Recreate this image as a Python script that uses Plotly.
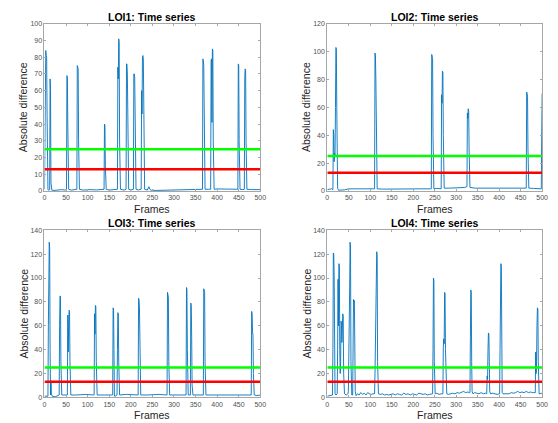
import plotly.graph_objects as go

# ---------------- data ----------------
titles = ["LOI1: Time series", "LOI2: Time series", "LOI3: Time series", "LOI4: Time series"]
x_label = "Frames"
y_label = "Absolute difference"
x_ticks = [0, 50, 100, 150, 200, 250, 300, 350, 400, 450, 500]
y_max = [100, 120, 140, 140]
y_step = [10, 20, 20, 20]
green_level = 25
red_level = 13

frames1 = [0, 1, 2, 3, 4, 5, 6, 7, 8, 9,
           11, 12, 13, 14, 15, 16, 17,
           22, 30, 40, 48,
           51, 52, 53, 54, 56,
           62, 70,
           75, 76, 77, 78, 79, 81,
           90, 105, 120, 135,
           138, 139, 140, 141, 143,
           150, 160, 167,
           169, 170, 171, 172, 173, 174, 176,
           185, 189, 190, 191, 192, 193, 195,
           200, 206, 207, 208, 209, 210, 212,
           218, 224, 225, 226, 227, 228, 229, 230, 232,
           238, 242, 244, 247, 260, 280, 300, 320, 340, 360,
           366, 367, 368, 369, 370, 372,
           380, 385, 386, 387, 388, 389, 390, 391, 393,
           400, 420, 440, 447,
           448, 449, 450, 451, 453,
           460, 463, 464, 465, 466, 467, 469,
           480, 495, 500]
diff1 = [1, 40, 35, 84, 81, 80, 45, 2, 1, 0.5,
         0.5, 1, 67, 60, 5, 1, 0.5,
         0.3, 0.5, 0.8, 0.5,
         1, 69, 68, 40, 1,
         0.5, 0.8,
         1, 75, 74, 73, 30, 1,
         0.5, 0.8, 0.6, 0.8,
         1, 40, 39, 15, 1,
         0.5, 0.8, 0.6,
         1, 74, 67, 91, 89, 30, 1,
         0.5, 1, 76, 76, 70, 20, 1,
         0.6, 1, 70, 70, 68, 20, 1,
         0.6, 1, 60, 46, 80, 81, 79, 30, 1,
         0.5, 2.5, 1, 0.4, 0.3, 0.5, 0.6, 0.8, 1, 1,
         1, 79, 78, 75, 20, 1,
         1, 1, 78, 79, 41, 85, 84, 30, 1,
         1.2, 1.3, 1, 1,
         1, 76, 75, 30, 1,
         0.8, 1, 68, 73, 72, 30, 1,
         0.8, 0.6, 0.8]

frames2 = [0, 5, 10, 13,
           14, 15, 16, 17, 18, 19, 20, 21, 22, 23, 24, 26,
           30, 40, 50, 70, 90, 108,
           110, 111, 112, 113, 114, 116,
           130, 160, 190, 220, 240,
           242, 243, 244, 245, 246, 248,
           255, 263,
           265, 266, 267, 268, 269, 270, 272,
           285, 305, 320, 324,
           325, 326, 327, 328, 329, 330, 332,
           345, 370, 400, 430, 455, 462,
           463, 464, 465, 466, 467, 469,
           480, 497, 498, 499, 500]
diff2 = [1, 1.5, 1.5, 1,
         44, 40, 21, 27, 26, 60, 103, 102, 60, 20, 2, 0.5,
         0.5, 0.8, 1.5, 1.5, 1.8, 1.5,
         1.5, 99, 97, 80, 30, 1.5,
         1.3, 1.5, 1.8, 1.5, 1.5,
         1.5, 98, 97, 95, 40, 1.5,
         1.8, 1.5,
         1.5, 69, 63, 86, 85, 40, 2,
         2, 2, 2.5, 3,
         3, 56, 52, 59, 57, 30, 2.5,
         2, 2, 1.8, 2, 2, 2,
         2, 71, 70, 68, 30, 2,
         1.8, 2, 1.5, 40, 70]

frames3 = [0, 4, 7, 8, 9, 10, 11, 12, 13, 14, 15, 16, 18,
           25, 31, 33,
           34, 35, 36, 37, 38, 40,
           45, 52,
           53, 54, 55, 56, 57, 58, 59, 61,
           75, 95, 114,
           115, 116, 117, 118, 119, 120, 122,
           140, 157,
           158, 159, 160, 161, 162, 164,
           168, 169, 170, 171, 172, 174,
           190, 210, 216,
           217, 218, 219, 220, 221, 223,
           240, 265, 283,
           284, 285, 286, 287, 288, 290,
           310, 327,
           328, 329, 330, 331, 333,
           338, 339, 340, 341, 342, 344,
           355, 367,
           368, 369, 370, 371, 372, 374,
           390, 420, 450, 478,
           479, 480, 481, 482, 483, 484, 486,
           492, 500]
diff3 = [1, 1, 1, 1, 60, 100, 130, 125, 40, 2, 14, 3, 1,
         0.5, 1.5, 2,
         2, 60, 85, 84, 30, 2,
         2, 2,
         2, 69, 38, 60, 73, 72, 30, 2,
         2, 2.5, 2,
         2, 70, 53, 77, 76, 30, 2,
         2, 2,
         2, 75, 74, 40, 1, 1,
         2, 40, 71, 70, 30, 2,
         2.5, 2, 2,
         2, 83, 82, 75, 30, 2,
         2, 2.5, 2,
         2, 88, 85, 84, 30, 2,
         2, 2,
         2, 92, 90, 40, 2,
         2, 79, 77, 50, 10, 2,
         2, 2,
         2, 91, 90, 88, 30, 2,
         2, 2, 2.5, 2,
         2, 72, 70, 55, 52, 20, 2,
         1.5, 2]

frames4 = [0, 4, 8, 11,
           12, 13, 14, 15, 16, 17, 18, 20,
           23, 24, 25, 26, 27, 28, 29, 30,
           31, 32, 33, 34, 35, 36, 37, 38, 40,
           44, 48,
           49, 50, 51, 52, 53, 54, 55, 57,
           59, 60, 61, 62, 63, 64, 65, 67,
           70, 74, 78, 82, 86, 90, 94, 98, 102, 106, 109,
           110, 111, 112, 113, 114, 115, 116, 117, 119,
           123, 128, 133, 138, 143, 148, 153, 158, 163, 168, 173, 178, 183,
           188, 193, 198, 203, 208, 213, 218, 223, 228, 233, 238, 243,
           245, 246, 247, 248, 249, 251,
           255, 260, 265, 268,
           269, 270, 271, 272, 273, 274, 275, 276, 278,
           282, 287, 292, 297, 302, 307, 312, 317, 322, 327, 331,
           332, 333, 334, 335, 336, 337, 339,
           343, 348, 353, 358, 363, 368, 370,
           371, 372, 373, 374, 375, 376, 377, 378, 380,
           385, 390, 395, 400,
           401, 402, 403, 404, 405, 406, 407, 409,
           413, 418, 423, 428, 433, 438, 443, 448, 453, 458, 463, 468, 473, 478, 483,
           484, 485, 486, 487, 488, 489, 490, 491, 492, 493, 495,
           498, 500]
diff4 = [1, 1.5, 2, 2,
         2, 40, 121, 120, 100, 30, 3, 2,
         3, 40, 99, 60, 112, 110, 40, 20,
         30, 64, 60, 46, 55, 70, 68, 20, 3,
         2, 3,
         5, 62, 47, 90, 130, 125, 30, 2,
         2, 40, 82, 80, 81, 40, 5, 1.5,
         3, 2, 4, 2.5, 3.5, 2, 4, 3, 2.5, 3, 2.5,
         3, 20, 47, 45, 80, 122, 118, 30, 3,
         2.5, 3, 2, 2.5, 2, 2.5, 3, 2, 3, 2.5, 2, 3.5, 2.5,
         3, 2, 3, 2.5, 2, 3.5, 3, 2.5, 3, 2, 2.5, 3,
         3, 40, 100, 98, 30, 3,
         3.5, 2.5, 3, 3,
         3, 42, 49, 45, 88, 87, 40, 10, 3,
         2.5, 3, 3.5, 3, 4, 3.5, 4, 5, 4, 4.5, 4,
         4, 50, 90, 88, 30, 5, 3,
         4, 3.5, 3, 4, 3, 3.5, 3,
         3, 18, 15, 40, 54, 53, 30, 5, 3,
         3.5, 3, 2.5, 3,
         3, 40, 111, 112, 110, 30, 4, 3,
         3, 3.5, 3, 4, 3.5, 4, 5, 4, 4.5, 4, 5, 4, 4.5, 4, 3.5,
         4, 38, 20, 30, 60, 75, 74, 30, 5, 3, 3,
         3.5, 3]

series = [(frames1, diff1), (frames2, diff2), (frames3, diff3), (frames4, diff4)]

# ---------------- layout ----------------
# The page body has an 8px margin, so the figure is drawn 8px smaller and
# all target pixel positions are shifted by that offset.
OFF = 8
W, H = 558 - OFF, 423 - OFF
# plot areas in window pixels: (left, right, top, bottom)
boxes = [(43, 262, 20, 190), (330, 548, 20, 190),
         (43, 262, 230, 400), (330, 548, 230, 400)]

fig = go.Figure()
FONT = "Liberation Sans, Arial, sans-serif"
blue = "#0072BD"

annotations = []
for i, ((fx, fy), box) in enumerate(zip(series, boxes)):
    l, r, t, b = (v - OFF for v in box)
    n = i + 1
    xa = "x" if n == 1 else f"x{n}"
    ya = "y" if n == 1 else f"y{n}"
    fig.add_trace(go.Scatter(x=fx, y=fy, mode="lines", xaxis=xa, yaxis=ya,
                             line=dict(color=blue, width=0.9), showlegend=False))
    fig.add_trace(go.Scatter(x=[0, 500], y=[green_level, green_level], mode="lines",
                             xaxis=xa, yaxis=ya,
                             line=dict(color="#00FF00", width=2.5), showlegend=False))
    fig.add_trace(go.Scatter(x=[0, 500], y=[red_level, red_level], mode="lines",
                             xaxis=xa, yaxis=ya,
                             line=dict(color="#FF0000", width=2.5), showlegend=False))
    common = dict(showline=True, linecolor="#A6A6A6", linewidth=1, mirror="ticks",
                  ticks="inside", ticklen=2, tickcolor="#A6A6A6", showgrid=False,
                  zeroline=False, tickfont=dict(family=FONT, size=7, color="#505050"))
    xkey = "xaxis" if n == 1 else f"xaxis{n}"
    ykey = "yaxis" if n == 1 else f"yaxis{n}"
    fig.update_layout({
        xkey: dict(domain=[l / W, r / W], anchor=ya, range=[0, 500],
                   tickvals=x_ticks, **common),
        ykey: dict(domain=[(H - b) / H, (H - t) / H], anchor=xa,
                   range=[0, y_max[i]], dtick=y_step[i], tick0=0, **common),
    })
    cx = (l + r) / 2
    annotations.append(dict(text=f"<b>{titles[i]}</b>", x=cx / W, y=(H - (t - 7)) / H,
                            xref="paper", yref="paper", showarrow=False,
                            xanchor="center", yanchor="middle",
                            font=dict(family=FONT, size=10.5, color="black")))
    annotations.append(dict(text=x_label, x=cx / W, y=(H - (b + 18)) / H,
                            xref="paper", yref="paper", showarrow=False,
                            xanchor="center", yanchor="middle",
                            font=dict(family=FONT, size=10.5, color="#262626")))
    annotations.append(dict(text=y_label, x=(l - 21) / W, y=(H - (t + b) / 2) / H,
                            xref="paper", yref="paper", showarrow=False, textangle=-90,
                            xanchor="center", yanchor="middle",
                            font=dict(family=FONT, size=10.5, color="#262626")))

fig.update_layout(width=W, height=H, margin=dict(l=0, r=0, t=0, b=0),
                  paper_bgcolor="white", plot_bgcolor="white",
                  annotations=annotations)

fig.write_html("out.html")
